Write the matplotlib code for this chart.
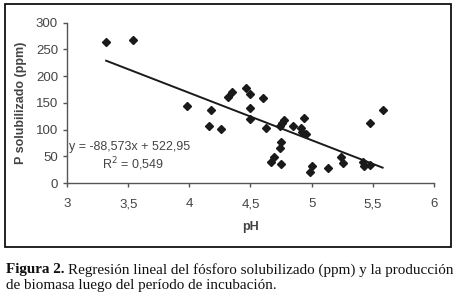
import matplotlib
matplotlib.use("Agg")
import matplotlib.pyplot as plt
import numpy as np
from matplotlib.patches import Rectangle

ph = [3.32, 3.54, 3.98, 4.16, 4.18, 4.26, 4.32, 4.35, 4.46, 4.50, 4.60, 4.50,
      4.50, 4.63, 4.74, 4.76, 4.77, 4.75, 4.74, 4.69, 4.67, 4.75, 4.85, 4.91,
      4.94, 4.92, 4.95, 5.00, 4.99, 5.13, 5.24, 5.26, 5.42, 5.43, 5.48, 5.48, 5.58]
p_sol = [263, 268, 145, 107, 136, 101, 161, 170, 177, 167, 160, 140,
         120, 103, 107, 113, 118, 77, 65, 49, 40, 35, 107, 102,
         121, 96, 92, 31, 20, 29, 48, 38, 39, 31, 34, 113, 136]
slope, intercept = -88.573, 522.95
r2 = 0.549
xticks = [3, 3.5, 4, 4.5, 5, 5.5, 6]
xticklabels = ["3", "3,5", "4", "4,5", "5", "5,5", "6"]
yticks = [0, 50, 100, 150, 200, 250, 300]

plt.rcParams['font.family'] = ['Liberation Sans', 'DejaVu Sans']

W, H = 458, 296
fig = plt.figure(figsize=(W/100, H/100), dpi=100)
ax = fig.add_axes([67/W, 1-183/H, (434-67)/W, (183-22.7)/H])

ax.plot(ph, p_sol, linestyle='none', marker='D', markersize=4.0, color='#1a1a1a')
xl = np.array([min(ph), max(ph)])
ax.plot(xl, slope*xl + intercept, color='#1a1a1a', linewidth=1.4)

ax.set_xlim(3, 6)
ax.set_ylim(0, 300)
ax.set_xticks(xticks)
ax.set_xticklabels(xticklabels)
ax.set_yticks(yticks)
for s in ['top', 'right']:
    ax.spines[s].set_visible(False)
for s in ['left', 'bottom']:
    ax.spines[s].set_color('#555555')
    ax.spines[s].set_linewidth(1.0)
ax.tick_params(axis='both', colors='#555555', labelcolor='#444444', labelsize=9.5,
               length=3, width=1.0, direction='out')
ax.tick_params(axis='x', pad=8)
ax.set_xlabel('pH', fontsize=9, fontweight='bold', color='#444444', labelpad=8)
ax.set_ylabel('P solubilizado (ppm)', fontsize=9, fontweight='bold', color='#444444', labelpad=6)

ax.text(3.02, 68, 'y = -88,573x + 522,95', fontsize=9, color='#444444', va='center', ha='left')
ax.text(3.29, 36, 'R$^2$ = 0,549', fontsize=9, color='#444444', va='center', ha='left')

fig.patches.append(Rectangle((5/W, 1-247/H), (451-5)/W, (247-4)/H, transform=fig.transFigure,
                             fill=False, edgecolor='#111111', linewidth=1.3))

cap_fs = 10.9
t_bold = fig.text(6/W, 1-270/H, 'Figura 2.', fontsize=cap_fs, va='center', ha='left',
                  family='Liberation Serif', fontweight='bold', color='#111111')
fig.canvas.draw()
bb = t_bold.get_window_extent(renderer=fig.canvas.get_renderer())
x_next = (bb.x1 + 4) / W
fig.text(x_next, 1-270/H, 'Regresión lineal del fósforo solubilizado (ppm) y la producción',
         fontsize=cap_fs, va='center', ha='left', family='Liberation Serif', color='#111111')
fig.text(6/W, 1-286/H, 'de biomasa luego del período de incubación.', fontsize=cap_fs,
         va='center', ha='left', family='Liberation Serif', color='#111111')

fig.savefig('out.png', dpi=100)
